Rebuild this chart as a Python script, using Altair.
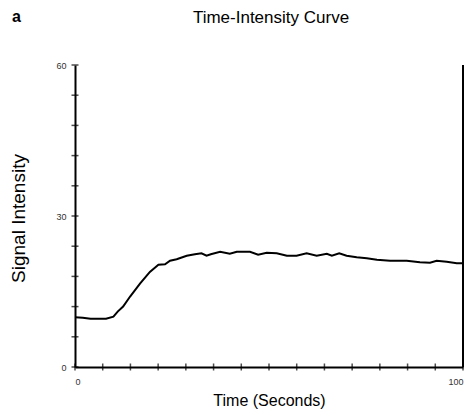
import altair as alt
import pandas as pd

# Time-intensity curve values
time_s = [0, 2, 4, 6, 8, 9.9, 11, 12.4, 14.2, 16.8, 19.3, 21.5, 23.2, 24.5, 26.2,
          28.8, 30.9, 32.6, 33.9, 35, 37.4, 39.9, 41.7, 45.1, 47.2, 49.4, 52.0,
          54.6, 57.1, 59.7, 62.3, 64.9, 66.2, 68.1, 70.0, 72.6, 75.2, 77.8, 81.2,
          85.5, 88.9, 91.5, 93.2, 95.8, 98.4, 100]
signal = [9.9, 9.8, 9.6, 9.6, 9.6, 10.0, 11.0, 12.0, 14.0, 16.6, 18.9, 20.3, 20.4,
          21.1, 21.4, 22.1, 22.4, 22.6, 22.1, 22.4, 22.9, 22.5, 22.9, 22.9, 22.3,
          22.7, 22.6, 22.1, 22.1, 22.6, 22.1, 22.5, 22.1, 22.6, 22.1, 21.8, 21.6,
          21.3, 21.1, 21.1, 20.8, 20.7, 21.1, 20.9, 20.6, 20.6]

x_domain = [0, 100]
y_domain = [0, 60]
x_labels = [0, 100]
y_labels = [0, 30, 60]
x_ticks = [round(i * 100 / 14, 3) for i in range(15)]
y_ticks = list(range(0, 61, 6))
chart_title = "Time-Intensity Curve"
panel_letter = "a"

FONT = "Liberation Sans"

curve = pd.DataFrame({"t": time_s, "v": signal})
xt = pd.DataFrame({"t": x_ticks})
yt = pd.DataFrame({"v": y_ticks})

xscale = alt.Scale(domain=x_domain, nice=False, zero=False)
yscale = alt.Scale(domain=y_domain, nice=False)

xaxis = alt.Axis(values=x_labels, title="Time  (Seconds)", grid=False,
                 domainColor="black", domainWidth=2, ticks=False,
                 labelFont=FONT, labelFontSize=9, labelColor="#333",
                 labelPadding=10, titleFont=FONT, titleFontSize=16,
                 titleFontWeight="normal", titleColor="black", titlePadding=6)
yaxis = alt.Axis(values=y_labels, title="Signal  Intensity", grid=False,
                 domainColor="black", domainWidth=2, ticks=False,
                 labelFont=FONT, labelFontSize=9, labelColor="#333",
                 labelPadding=9, titleFont=FONT, titleFontSize=19,
                 titleFontWeight="normal", titleColor="black",
                 titleX=-57, titleY=153, titleAngle=-90,
                 titleAlign="center", titleBaseline="middle")

line = alt.Chart(curve).mark_line(color="black", strokeWidth=2).encode(
    x=alt.X("t:Q", scale=xscale, axis=xaxis),
    y=alt.Y("v:Q", scale=yscale, axis=yaxis),
)

xtick = alt.Chart(xt).mark_tick(orient="vertical", size=7, thickness=1.5,
                                color="black").encode(
    x=alt.X("t:Q", scale=xscale),
    y=alt.datum(0),
)

ytick = alt.Chart(yt).mark_tick(orient="horizontal", size=7, thickness=1.5,
                                color="black").encode(
    y=alt.Y("v:Q", scale=yscale),
    x=alt.datum(0),
)

right = alt.Chart(pd.DataFrame({"x": [x_domain[1]], "y0": [y_domain[0]],
                                "y1": [y_domain[1]]})).mark_rule(
    color="black", strokeWidth=2).encode(
    x=alt.X("x:Q", scale=xscale),
    y=alt.Y("y0:Q", scale=yscale),
    y2="y1:Q",
)

letter = alt.Chart(pd.DataFrame({"s": [panel_letter]})).mark_text(
    font=FONT, fontSize=16, fontWeight="bold", align="left",
    baseline="alphabetic", color="black").encode(
    text="s:N", x=alt.value(-63), y=alt.value(-43))

title = alt.Chart(pd.DataFrame({"s": [chart_title]})).mark_text(
    font=FONT, fontSize=17, fontWeight="normal", align="center",
    baseline="alphabetic", color="black").encode(
    text="s:N", x=alt.value(196), y=alt.value(-42))

chart = alt.layer(right, line, xtick, ytick, letter, title).properties(
    width=388, height=302,
    autosize=alt.AutoSizeParams(type="none"),
    padding={"left": 67, "top": 57, "right": 4, "bottom": 46},
).configure_view(stroke=None)

chart.save("out.html", embed_options={"renderer": "svg", "actions": False})
